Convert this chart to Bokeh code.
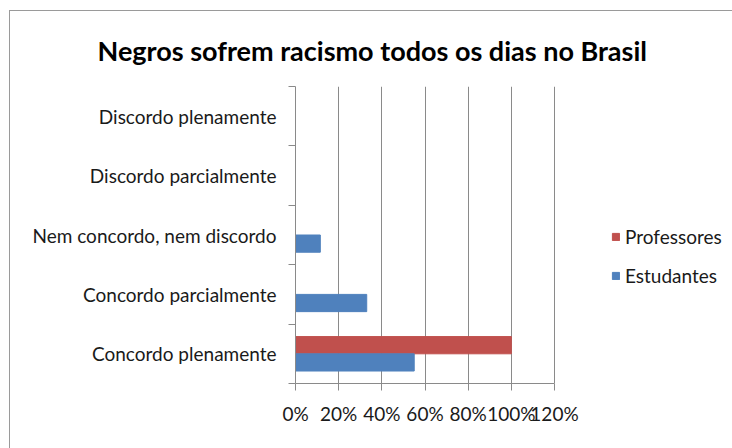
from bokeh.plotting import figure
from bokeh.models import (Range1d, LinearAxis, FixedTicker, NumeralTickFormatter, Legend,
                          LegendItem, ColumnDataSource)
from bokeh.layouts import column
from bokeh.embed import file_html
from bokeh.resources import INLINE

title_text = "Negros sofrem racismo todos os dias no Brasil"
categories = ["Concordo plenamente", "Concordo parcialmente", "Nem concordo, nem discordo",
              "Discordo parcialmente", "Discordo plenamente"]
estudantes = [0.55, 0.33, 0.115, 0.0, 0.0]
professores = [1.0, 0.0, 0.0, 0.0, 0.0]
x_ticks = [0, 0.2, 0.4, 0.6, 0.8, 1.0, 1.2]

FONT = "Lato"
GRAY = "#8a8a8a"
TXT = "#1a1a1a"
FS = "19px"

n = len(categories)
centers = [i + 0.5 for i in range(n)]

# canvas geometry (pixels): frame starts at 285, axis 0..120% spans 259 px,
# frame is extended to the canvas' right edge so the legend can sit inside it
W, H = 722, 437
LEFT = 285
AXIS_PX = 259
x_end = x_ticks[-1] * (W - LEFT) / AXIS_PX

p = figure(width=W, height=H, y_range=Range1d(0, n), x_range=Range1d(0, x_end),
           output_backend="svg", toolbar_location=None, y_axis_location=None,
           min_border_left=LEFT, min_border_right=0, min_border_top=74, min_border_bottom=65)

src = ColumnDataSource(dict(c=centers, est=estudantes, prof=professores,
                            y_prof=[c + 0.145 for c in centers],
                            y_est=[c - 0.145 for c in centers]))
r_prof = p.hbar(y="y_prof", right="prof", left=0, height=0.29, source=src, color="#C0504D")
r_est = p.hbar(y="y_est", right="est", left=0, height=0.29, source=src, color="#4F81BD")

# boundary ticks axis (innermost)
bounds = list(range(n + 1))
tick_axis = LinearAxis(ticker=FixedTicker(ticks=bounds),
                       major_label_overrides={b: "" for b in bounds},
                       axis_line_color=GRAY, major_tick_line_color=GRAY,
                       major_tick_out=7, major_tick_in=0, minor_tick_line_color=None,
                       major_label_standoff=0, major_label_text_font_size="1px")
p.add_layout(tick_axis, "left")
cat_axis = LinearAxis(ticker=FixedTicker(ticks=centers),
                      major_label_overrides={c: lab for c, lab in zip(centers, categories)},
                      axis_line_color=None, major_tick_line_color=None, minor_tick_line_color=None,
                      major_label_standoff=6,
                      major_label_text_font=FONT, major_label_text_font_size=FS,
                      major_label_text_color=TXT)
p.add_layout(cat_axis, "left")

p.xaxis.ticker = FixedTicker(ticks=x_ticks)
p.xaxis.bounds = (x_ticks[0], x_ticks[-1])
p.xaxis.formatter = NumeralTickFormatter(format="0%")
p.xaxis.axis_line_color = GRAY
p.xaxis.major_tick_line_color = GRAY
p.xaxis.major_tick_out = 7
p.xaxis.major_tick_in = 0
p.xaxis.minor_tick_line_color = None
p.xaxis.major_label_text_font = FONT
p.xaxis.major_label_text_font_size = FS
p.xaxis.major_label_text_color = TXT
p.xaxis.major_label_standoff = 11

p.xgrid.ticker = FixedTicker(ticks=x_ticks)
p.xgrid.grid_line_color = GRAY
p.ygrid.grid_line_color = None
p.outline_line_color = None

p.title.text = title_text
p.title.text_font = FONT
p.title.text_font_style = "bold"
p.title.text_font_size = "27px"
p.title.text_color = "#000000"
p.title.align = "left"
p.title.offset = -198
p.title.standoff = 40

legend = Legend(items=[LegendItem(label="Professores", renderers=[r_prof]),
                       LegendItem(label="Estudantes", renderers=[r_est])],
                location=(316, 96), border_line_color=None, background_fill_alpha=0,
                glyph_width=9, glyph_height=9, label_standoff=5, spacing=16,
                padding=0, margin=0, label_text_font=FONT, label_text_font_size=FS,
                label_text_color=TXT)
p.add_layout(legend, "center")

layout = column(p, styles={"margin-left": "9px", "margin-top": "10px",
                           "border-left": "1px solid #9a9a9a", "border-top": "1px solid #9a9a9a"})

open("out.html", "w").write(file_html(layout, INLINE))
